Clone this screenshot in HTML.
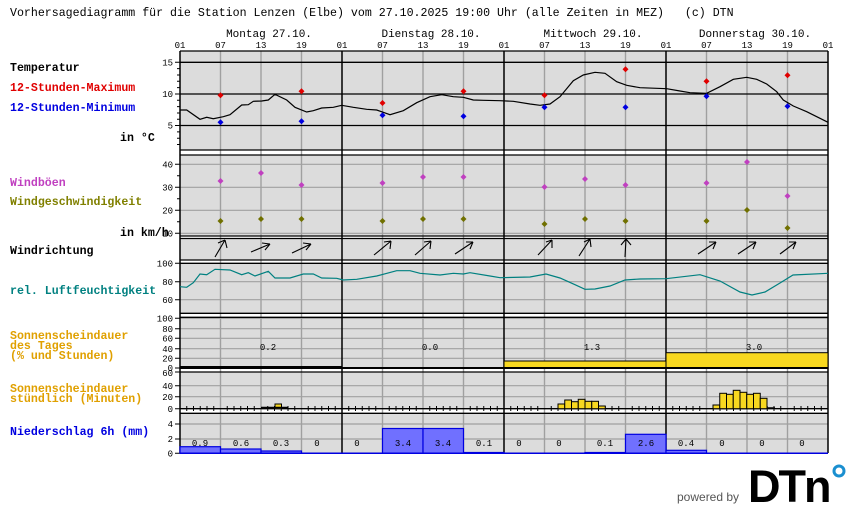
<!DOCTYPE html>
<html><head><meta charset="utf-8"><style>
html,body{margin:0;padding:0;background:#fff;width:850px;height:524px;overflow:hidden}
svg{display:block}
.m{font-family:"Liberation Mono","DejaVu Sans Mono",monospace}
.lb{font-family:"Liberation Mono",monospace;font-weight:bold;font-size:11.6px}
.tk{font-family:"Liberation Mono",monospace;font-size:9px}
</style></head><body>
<svg width="850" height="524" viewBox="0 0 850 524" xmlns="http://www.w3.org/2000/svg">
<text x="10" y="16" class="m" font-size="11.6" fill="#000" style="white-space:pre" xml:space="preserve">Vorhersagediagramm für die Station Lenzen (Elbe) vom 27.10.2025 19:00 Uhr (alle Zeiten in MEZ)   (c) DTN</text>
<g class="m" font-size="11" text-anchor="middle">
<text x="269" y="37">Montag 27.10.</text><text x="431" y="37">Dienstag 28.10.</text><text x="593" y="37">Mittwoch 29.10.</text><text x="755" y="37">Donnerstag 30.10.</text>
</g>
<g class="tk" text-anchor="middle">
<text x="180" y="48">01</text><text x="220.5" y="48">07</text><text x="261" y="48">13</text><text x="301.5" y="48">19</text>
<text x="342" y="48">01</text><text x="382.5" y="48">07</text><text x="423" y="48">13</text><text x="463.5" y="48">19</text>
<text x="504" y="48">01</text><text x="544.5" y="48">07</text><text x="585" y="48">13</text><text x="625.5" y="48">19</text>
<text x="666" y="48">01</text><text x="706.5" y="48">07</text><text x="747" y="48">13</text><text x="787.5" y="48">19</text><text x="828" y="48">01</text>
</g>
<g class="lb">
<text x="10" y="71" fill="#000">Temperatur</text>
<text x="10" y="91" fill="#e00000">12-Stunden-Maximum</text>
<text x="10" y="111" fill="#0000e0">12-Stunden-Minimum</text>
<text x="120" y="141" fill="#000">in °C</text>
<text x="10" y="186" fill="#c040c0">Windböen</text>
<text x="10" y="205" fill="#808000">Windgeschwindigkeit</text>
<text x="120" y="236" fill="#000">in km/h</text>
<text x="10" y="254" fill="#000">Windrichtung</text>
<text x="10" y="294" fill="#008080">rel. Luftfeuchtigkeit</text>
<text x="10" y="339" fill="#e0a000">Sonnenscheindauer</text>
<text x="10" y="349" fill="#e0a000">des Tages</text>
<text x="10" y="359" fill="#e0a000">(% und Stunden)</text>
<text x="10" y="392" fill="#e0a000">Sonnenscheindauer</text>
<text x="10" y="402" fill="#e0a000">stündlich (Minuten)</text>
<text x="10" y="435" fill="#0000e0">Niederschlag 6h (mm)</text>
</g>
<g fill="#dcdcdc">
<rect x="180" y="51" width="648" height="99"/>
<rect x="180" y="155" width="648" height="81"/>
<rect x="180" y="238" width="648" height="22"/>
<rect x="180" y="263" width="648" height="50"/>
<rect x="180" y="317" width="648" height="51"/>
<rect x="180" y="372" width="648" height="37"/>
<rect x="180" y="413" width="648" height="40"/>
</g>
<path fill="none" stroke="#a0a0a0" stroke-width="1.2" d="M180 164.3H828M180 187.3H828M180 210.3H828M180 233.3H828M180 281.7H828M180 299.7H828M180 318.3H828M180 328.7H828M180 338.3H828M180 348.7H828M180 358.3H828M180 385.7H828M180 396.7H828M180 424H828M180 439H828"/>
<path fill="none" stroke="#a0a0a0" stroke-width="1.4" d="M220.5 51V453M261 51V453M301.5 51V453M382.5 51V453M423 51V453M463.5 51V453M544.5 51V453M585 51V453M625.5 51V453M706.5 51V453M747 51V453M787.5 51V453"/>
<path fill="none" stroke="#000" stroke-width="1.3" d="M180 51H828M180 62.3H828M180 94H828M180 125.5H828M180 150H828M180 155H828M180 236H828M180 238.5H828M180 260H828M180 263.3H828M180 313.3H828M180 317.3H828M180 372H828M180 408.7H828M180 413.3H828"/>
<path fill="none" stroke="#000" stroke-width="1.5" d="M180 51V453M342 51V453M504 51V453M666 51V453M828 51V453"/>
<path fill="none" stroke="#000" stroke-width="1" d="M175 62.3H180M177 68.6H180M177 75H180M177 81.3H180M177 87.6H180M175 94H180M177 100.3H180M177 106.6H180M177 113H180M177 119.3H180M175 125.5H180M177 131.9H180M177 138.2H180M177 144.5H180
M175 164.3H180M177 175.8H180M175 187.3H180M177 198.8H180M175 210.3H180M177 221.8H180M175 233.3H180
M175 263.3H180M175 281.7H180M175 299.7H180
M175 318.3H180M175 328.7H180M175 338.3H180M175 348.7H180M175 358.3H180M175 368H180
M175 372H180M175 385.7H180M175 396.7H180M175 408.7H180
M175 424H180M175 439H180M175 453.3H180"/>
<g class="tk" text-anchor="end">
<text x="173" y="65.5">15</text><text x="173" y="97">10</text><text x="173" y="128.5">5</text>
<text x="173" y="167.5">40</text><text x="173" y="190.5">30</text><text x="173" y="213.5">20</text><text x="173" y="236.5">10</text>
<text x="173" y="266.5">100</text><text x="173" y="285">80</text><text x="173" y="303">60</text>
<text x="173" y="321.5">100</text><text x="173" y="332">80</text><text x="173" y="341.5">60</text><text x="173" y="352">40</text><text x="173" y="361.5">20</text><text x="173" y="371">0</text>
<text x="173" y="376">60</text><text x="173" y="389">40</text><text x="173" y="400">20</text><text x="173" y="412">0</text>
<text x="173" y="427">4</text><text x="173" y="442">2</text><text x="173" y="456.5">0</text>
</g>
<polyline fill="none" stroke="#000" stroke-width="1.2" points="180,110 186.7,110 200,119.3 206.7,117.3 213.3,118.7 223.3,116.7 230,114.7 241.7,105 248.3,104.7 253.3,101.3 261.7,101 268.3,100 275,94.3 286.7,100 295,107.3 306.7,112 313.3,110.7 321.7,108 333.3,107.3 341.7,105.3 353.3,107.3 366.7,109.3 376.7,110 390,114.7 403.3,110.7 416.7,102.7 430,96.7 441.7,94.7 453.3,96.7 463.3,97.3 473.3,100 483.3,100.3 500,100.7 513.3,101.3 530,104 540,105.3 550,104 560,96.7 573.3,80.7 583.3,75 595,72.3 605,73.3 616.7,81.7 626.7,85.3 640,87.7 656.7,88.3 666.7,88.7 680,91 690,92.7 706.7,93.3 720,86.7 733.3,79.3 746.7,77.3 756.7,79.3 766.7,84 776.7,91.7 783.3,100 793.3,106 806.7,111.7 820,118.3 828,122.3"/>
<g fill="#e00000">
<path d="M220.5 92.3l3 3-3 3-3-3z"/><path d="M301.5 88.3l3 3-3 3-3-3z"/><path d="M382.5 100l3 3-3 3-3-3z"/><path d="M463.5 88.3l3 3-3 3-3-3z"/>
<path d="M544.5 92.3l3 3-3 3-3-3z"/><path d="M625.5 66.3l3 3-3 3-3-3z"/><path d="M706.5 78.3l3 3-3 3-3-3z"/><path d="M787.5 72.3l3 3-3 3-3-3z"/>
</g>
<g fill="#0000e0">
<path d="M220.5 119.3l3 3-3 3-3-3z"/><path d="M301.5 118.3l3 3-3 3-3-3z"/><path d="M382.5 112.3l3 3-3 3-3-3z"/><path d="M463.5 113.3l3 3-3 3-3-3z"/>
<path d="M544.5 104.3l3 3-3 3-3-3z"/><path d="M625.5 104.3l3 3-3 3-3-3z"/><path d="M706.5 93.3l3 3-3 3-3-3z"/><path d="M787.5 103.3l3 3-3 3-3-3z"/>
</g>
<g fill="#c040c0">
<path d="M220.5 178l3 3-3 3-3-3z"/><path d="M261 170l3 3-3 3-3-3z"/><path d="M301.5 182l3 3-3 3-3-3z"/><path d="M382.5 180l3 3-3 3-3-3z"/><path d="M423 174l3 3-3 3-3-3z"/><path d="M463.5 174l3 3-3 3-3-3z"/>
<path d="M544.5 184l3 3-3 3-3-3z"/><path d="M585 176l3 3-3 3-3-3z"/><path d="M625.5 182l3 3-3 3-3-3z"/><path d="M706.5 180l3 3-3 3-3-3z"/><path d="M747 159l3 3-3 3-3-3z"/><path d="M787.5 193l3 3-3 3-3-3z"/>
</g>
<g fill="#707000">
<path d="M220.5 218l3 3-3 3-3-3z"/><path d="M261 216l3 3-3 3-3-3z"/><path d="M301.5 216l3 3-3 3-3-3z"/><path d="M382.5 218l3 3-3 3-3-3z"/><path d="M423 216l3 3-3 3-3-3z"/><path d="M463.5 216l3 3-3 3-3-3z"/>
<path d="M544.5 221l3 3-3 3-3-3z"/><path d="M585 216l3 3-3 3-3-3z"/><path d="M625.5 218l3 3-3 3-3-3z"/><path d="M706.5 218l3 3-3 3-3-3z"/><path d="M747 207l3 3-3 3-3-3z"/><path d="M787.5 225l3 3-3 3-3-3z"/>
</g>
<g fill="none" stroke="#000" stroke-width="1.1">
<path d="M215 257L225 240M225 240l-7 3M225 240l2 8"/>
<path d="M251 252L270 244M270 244l-8-1M270 244l-5 6"/>
<path d="M292 253L311 244M311 244l-8-1M311 244l-5 6"/>
<path d="M374 255L391 241M391 241l-7 1M391 241l-1 8"/>
<path d="M415 255L431 241M431 241l-7 1M431 241l-1 8"/>
<path d="M455 254L473 242M473 242l-7 0M473 242l-3 7"/>
<path d="M538 255L552 240M552 240l-6 2M552 240l0 8"/>
<path d="M579 256L590 239M590 239l-6 3M590 239l1 8"/>
<path d="M625 257L626 239M626 239l-5 6M626 239l5 6"/>
<path d="M698 254L716 242M716 242l-7 0M716 242l-3 7"/>
<path d="M738 254L756 242M756 242l-7 0M756 242l-3 7"/>
<path d="M780 254L796 242M796 242l-7 0M796 242l-3 7"/>
</g>
<polyline fill="none" stroke="#008080" stroke-width="1.2" points="180,286.7 186.7,287.3 193.3,282.7 200,274 206.7,274.7 215,269.3 230,270 241.7,274.7 248.3,272.7 255,276 268.3,271.3 275,278 290,278 303.3,274 313.3,274 321.7,278 336.7,278.3 343.3,280 356.7,279.3 376.7,276 396.7,270.7 410,270.7 420,273.3 440,275 453.3,273.3 463.3,274 470,272.7 490,276 500,277.7 530,277 546,274 560,278 575,284.7 585,289.3 595,289 610,286 625,280 640,279 666,278.7 700,274.7 720,281 740,292 752,295 765,292 780,283 793,275 828,273.3"/>
<line x1="180" y1="367" x2="342" y2="367" stroke="#000" stroke-width="2"/>
<rect x="504" y="361" width="162" height="7" fill="#f8d820" stroke="#000" stroke-width="1"/>
<rect x="666" y="352.7" width="162" height="15.3" fill="#f8d820" stroke="#000" stroke-width="1"/>
<line x1="180" y1="368" x2="828" y2="368" stroke="#000" stroke-width="2"/>
<g class="tk" text-anchor="middle"><text x="268" y="350">0.2</text><text x="430" y="350">0.0</text><text x="592" y="350">1.3</text><text x="754" y="350">3.0</text></g>
<path fill="none" stroke="#000" stroke-width="1" d="M186.75 406V411M193.5 406V411M200.25 406V411M207 406V411M213.75 406V411M227.25 406V411M234 406V411M240.75 406V411M247.5 406V411M254.25 406V411M267.75 406V411M274.5 406V411M281.25 406V411M288 406V411M294.75 406V411M308.25 406V411M315 406V411M321.75 406V411M328.5 406V411M335.25 406V411
M348.75 406V411M355.5 406V411M362.25 406V411M369 406V411M375.75 406V411M389.25 406V411M396 406V411M402.75 406V411M409.5 406V411M416.25 406V411M429.75 406V411M436.5 406V411M443.25 406V411M450 406V411M456.75 406V411M470.25 406V411M477 406V411M483.75 406V411M490.5 406V411M497.25 406V411
M510.75 406V411M517.5 406V411M524.25 406V411M531 406V411M537.75 406V411M551.25 406V411M558 406V411M564.75 406V411M571.5 406V411M578.25 406V411M591.75 406V411M598.5 406V411M605.25 406V411M612 406V411M618.75 406V411M632.25 406V411M639 406V411M645.75 406V411M652.5 406V411M659.25 406V411
M672.75 406V411M679.5 406V411M686.25 406V411M693 406V411M699.75 406V411M713.25 406V411M720 406V411M726.75 406V411M733.5 406V411M740.25 406V411M753.75 406V411M760.5 406V411M767.25 406V411M774 406V411M780.75 406V411M794.25 406V411M801 406V411M807.75 406V411M814.5 406V411M821.25 406V411"/>
<g fill="#f8d820" stroke="#000" stroke-width="1">
<rect x="275" y="404" width="6.5" height="4.7"/>
<rect x="558" y="404" width="6.75" height="4.7"/><rect x="564.75" y="400" width="6.75" height="8.7"/><rect x="571.5" y="401.7" width="6.75" height="7"/><rect x="578.25" y="399.3" width="6.75" height="9.4"/><rect x="585" y="401.3" width="6.75" height="7.4"/><rect x="591.75" y="401.3" width="6.75" height="7.4"/><rect x="598.5" y="406" width="6.75" height="2.7"/>
<rect x="713" y="405" width="6.75" height="3.7"/><rect x="719.75" y="393.3" width="6.75" height="15.4"/><rect x="726.5" y="394.3" width="6.75" height="14.4"/><rect x="733.25" y="390.3" width="6.75" height="18.4"/><rect x="740" y="392.3" width="6.75" height="16.4"/><rect x="746.75" y="394.3" width="6.75" height="14.4"/><rect x="753.5" y="393.3" width="6.75" height="15.4"/><rect x="760.25" y="398.3" width="6.75" height="10.4"/>
</g>
<path d="M261 407.5H288M767 408H775" stroke="#000" stroke-width="1.5"/>
<g fill="#7070ff" stroke="#0000e0" stroke-width="1.2">
<rect x="180" y="446.7" width="40.5" height="6.6"/><rect x="220.5" y="449" width="40.5" height="4.3"/><rect x="261" y="451" width="40.5" height="2.3"/>
<rect x="382.5" y="428.5" width="40.5" height="24.8"/><rect x="423" y="428.5" width="40.5" height="24.8"/><rect x="463.5" y="452.5" width="40.5" height="0.8"/>
<rect x="585" y="452.5" width="40.5" height="0.8"/><rect x="625.5" y="434.3" width="40.5" height="19"/>
<rect x="666" y="450.3" width="40.5" height="3"/>
</g>
<line x1="180" y1="453.3" x2="828" y2="453.3" stroke="#0000e0" stroke-width="1.5"/>
<g class="tk" text-anchor="middle">
<text x="200" y="446">0.9</text><text x="241" y="446">0.6</text><text x="281" y="446">0.3</text><text x="317" y="446">0</text>
<text x="357" y="446">0</text><text x="403" y="446">3.4</text><text x="443" y="446">3.4</text><text x="484" y="446">0.1</text>
<text x="519" y="446">0</text><text x="559" y="446">0</text><text x="605" y="446">0.1</text><text x="646" y="446">2.6</text>
<text x="686" y="446">0.4</text><text x="722" y="446">0</text><text x="762" y="446">0</text><text x="802" y="446">0</text>
</g>
<text x="677" y="501" font-family="Liberation Sans,sans-serif" font-size="12" fill="#555">powered by</text>
<text x="748" y="502" font-family="Liberation Sans,sans-serif" font-weight="bold" font-size="45" fill="#000" letter-spacing="-2">DTn</text>
<circle cx="839" cy="471" r="5" fill="none" stroke="#1a8fd0" stroke-width="3"/>
</svg>
</body></html>
